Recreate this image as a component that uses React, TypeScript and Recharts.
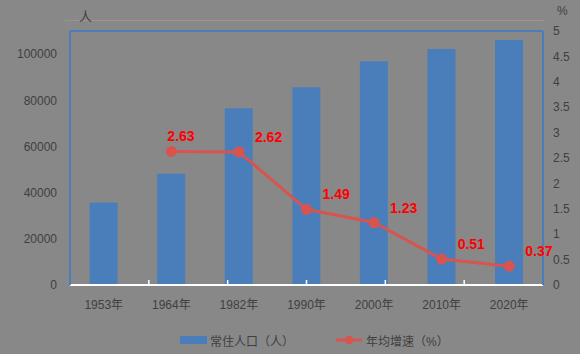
import React from "react";
import { ComposedChart, Bar, Line, XAxis, YAxis, ReferenceLine } from "recharts";

const categories = ["1953年", "1964年", "1982年", "1990年", "2000年", "2010年", "2020年"];
const population = [35700, 48200, 76500, 85600, 96900, 102200, 106100];
const growth: (number | null)[] = [null, 2.63, 2.62, 1.49, 1.23, 0.51, 0.37];
const leftTicks = [0, 20000, 40000, 60000, 80000, 100000];
const rightTicks = [0, 0.5, 1, 1.5, 2, 2.5, 3, 3.5, 4, 4.5, 5];
const boundaryTicks = [0, 1, 2, 3, 4, 5, 6, 7];

const data = categories.map((c, i) => ({ name: c, pop: population[i], rate: growth[i] }));

const FONT = "'Liberation Sans', 'Noto Sans CJK SC', sans-serif";
const BLUE = "#4a7ebb";
const RED = "#d9534f";
const TEXT = "#404040";

const RateLabel = (props: any) => {
  const { x, y, value, index } = props;
  if (value == null) return null;
  const dx = index === 1 ? -4 : 16;
  return (
    <text x={x + dx} y={y - 10} fill="#ff0000" fontSize={14} fontWeight="bold" fontFamily={FONT} textAnchor="start">
      {value}
    </text>
  );
};

const EmptyTick = () => <g />;

export default function App() {
  return (
    <div style={{ position: "fixed", left: 0, top: 0, width: 580, height: 354, background: "#888888", fontFamily: FONT }}>
      <div style={{ position: "absolute", left: 65, top: 20, width: 480, height: 1, background: "#9a9494" }} />
      <div style={{ position: "absolute", left: 79, top: 6, fontSize: 13, color: TEXT }}>人</div>
      <div style={{ position: "absolute", left: 557, top: 4, fontSize: 12, color: TEXT }}>%</div>
      <ComposedChart
        width={580}
        height={354}
        data={data}
        margin={{ top: 31, right: 0, left: 0, bottom: 39 }}
        barCategoryGap="29%"
      >
        <XAxis
          xAxisId="a"
          type="number"
          domain={[0, 7]}
          ticks={boundaryTicks}
          height={1}
          mirror
          tick={<EmptyTick />}
          tickSize={5}
          tickLine={{ stroke: "#ffffff", strokeWidth: 1.5 }}
          axisLine={{ stroke: "#ffffff", strokeWidth: 2 }}
          allowDataOverflow
        />
        <XAxis
          xAxisId="b"
          dataKey="name"
          height={30}
          axisLine={false}
          tickLine={false}
          tickMargin={9}
          tick={{ fill: TEXT, fontSize: 12, fontFamily: FONT }}
          interval={0}
        />
        <YAxis
          yAxisId="l"
          width={70}
          domain={[0, 110000]}
          ticks={leftTicks}
          tickLine={false}
          tickMargin={7}
          axisLine={{ stroke: BLUE, strokeWidth: 2 }}
          tick={{ fill: TEXT, fontSize: 12, fontFamily: FONT }}
        />
        <YAxis
          yAxisId="r"
          orientation="right"
          width={37}
          domain={[0, 5]}
          ticks={rightTicks}
          tickLine={false}
          tickMargin={4}
          axisLine={{ stroke: BLUE, strokeWidth: 2 }}
          tick={{ fill: TEXT, fontSize: 12, fontFamily: FONT, textAnchor: "start" }}
        />
        <ReferenceLine xAxisId="b" yAxisId="l" y={110000} stroke={BLUE} strokeWidth={2} />
        <Bar xAxisId="b" yAxisId="l" dataKey="pop" fill={BLUE} isAnimationActive={false} />
        <Line
          xAxisId="b"
          yAxisId="r"
          dataKey="rate"
          stroke={RED}
          strokeWidth={3}
          dot={{ r: 4, fill: RED, stroke: RED }}
          isAnimationActive={false}
          label={<RateLabel />}
          connectNulls
        />
      </ComposedChart>
      <div style={{ position: "absolute", left: 180, top: 336, width: 27, height: 8, background: BLUE }} />
      <div style={{ position: "absolute", left: 210, top: 332, fontSize: 12, color: TEXT, whiteSpace: "nowrap" }}>常住人口（人）</div>
      <svg style={{ position: "absolute", left: 334, top: 333 }} width={30} height={14}>
        <line x1={2} y1={7} x2={28} y2={7} stroke={RED} strokeWidth={3} />
        <circle cx={15} cy={7} r={4} fill={RED} />
      </svg>
      <div style={{ position: "absolute", left: 366, top: 332, fontSize: 12, color: TEXT, whiteSpace: "nowrap" }}>年均增速（%）</div>
    </div>
  );
}
